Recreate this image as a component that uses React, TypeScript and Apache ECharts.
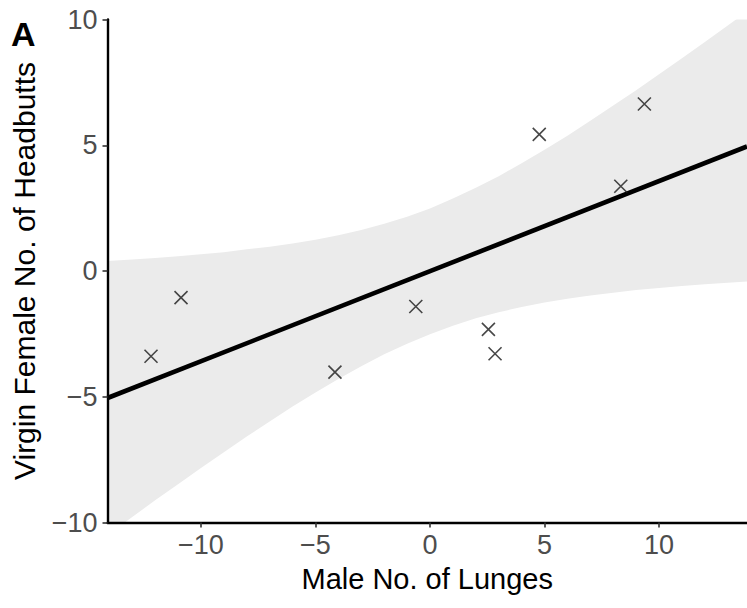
import React, { useEffect, useRef } from "react";
import * as echarts from "echarts";

// Scatter points
const pointX = [-12.18, -10.87, -4.15, -0.62, 2.55, 2.84, 4.77, 8.33, 9.36];
const pointY = [-3.39, -1.06, -4.02, -1.41, -2.32, -3.29, 5.43, 3.37, 6.64];

// Fitted line end points
const fitX = [-14.08, 13.84];
const fitY = [-5.05, 4.95];

// Confidence band edges
const bandX = [-14.08, -13, -12, -11, -10, -9, -8, -7, -6, -5, -4, -3, -2, -1, 0, 1, 2, 3, 4, 5, 6, 7, 8, 9, 10, 11, 12, 13, 13.84];
const bandLow = [-10.5, -9.78, -9.12, -8.48, -7.83, -7.21, -6.58, -5.98, -5.39, -4.83, -4.29, -3.79, -3.31, -2.89, -2.51, -2.18, -1.88, -1.64, -1.43, -1.25, -1.1, -0.97, -0.86, -0.76, -0.68, -0.6, -0.53, -0.47, -0.42];
const bandHigh = [0.4, 0.46, 0.52, 0.59, 0.67, 0.75, 0.86, 0.96, 1.09, 1.24, 1.42, 1.63, 1.88, 2.16, 2.49, 2.88, 3.31, 3.77, 4.28, 4.82, 5.38, 5.97, 6.58, 7.19, 7.82, 8.46, 9.11, 9.76, 10.32];

// Tick labels
const xTicks = [-10, -5, 0, 5, 10];
const yTicks = [-10, -5, 0, 5, 10];

const FONT = "'Liberation Sans', Arial, Helvetica, sans-serif";
const fmt = (v: number) => (v < 0 ? "\u2212" + Math.abs(v) : String(v));

export default function App() {
  const ref = useRef<HTMLDivElement>(null);
  useEffect(() => {
    if (!ref.current) return;
    const chart = echarts.init(ref.current, undefined, { renderer: "svg" });
    const option: any = {
      animation: false,
      backgroundColor: "#ffffff",
      grid: { left: 107.5, right: 0, top: 19.5, bottom: 85.5, containLabel: false },
      graphic: [
        {
          type: "text",
          left: 11,
          top: 17,
          style: { text: "A", fontSize: 34, fontWeight: "bold", fontFamily: FONT, fill: "#000" },
        },
      ],
      xAxis: {
        type: "value",
        min: fitX[0],
        max: fitX[1],
        z: 5,
        name: "Male No. of Lunges",
        nameLocation: "middle",
        nameGap: 42,
        nameTextStyle: { fontSize: 29, fontFamily: FONT, color: "#000" },
        splitLine: { show: false },
        axisLine: { show: true, onZero: false, lineStyle: { color: "#000", width: 2.4 } },
        axisTick: { show: true, length: 5, customValues: xTicks, lineStyle: { color: "#333", width: 1.6 } },
        axisLabel: {
          customValues: xTicks,
          formatter: fmt,
          fontSize: 27,
          fontFamily: FONT,
          color: "#4d4d4d",
          margin: 9,
        },
      },
      yAxis: {
        type: "value",
        min: yTicks[0],
        max: yTicks[yTicks.length - 1],
        interval: 5,
        z: 5,
        name: "Virgin Female No. of Headbutts",
        nameLocation: "middle",
        nameGap: 68,
        nameTextStyle: { fontSize: 30, fontFamily: FONT, color: "#000" },
        splitLine: { show: false },
        axisLine: { show: true, onZero: false, lineStyle: { color: "#000", width: 2.4 } },
        axisTick: { show: true, length: 5, lineStyle: { color: "#333", width: 1.6 } },
        axisLabel: {
          formatter: fmt,
          fontSize: 27,
          fontFamily: FONT,
          color: "#4d4d4d",
          margin: 10,
        },
      },
      series: [
        {
          type: "custom",
          clip: true,
          silent: true,
          z: 1,
          data: [0],
          renderItem: (params: any, api: any) => {
            const upper = bandX.map((x, i) => api.coord([x, bandHigh[i]]));
            const lower = bandX.map((x, i) => api.coord([x, bandLow[i]])).reverse();
            return {
              type: "polygon",
              shape: { points: upper.concat(lower), smooth: 0 },
              style: { fill: "#ebebeb", stroke: "none" },
            };
          },
        },
        {
          type: "line",
          data: fitX.map((x, i) => [x, fitY[i]]),
          symbol: "none",
          lineStyle: { color: "#000", width: 4.6 },
          z: 3,
        },
        {
          type: "scatter",
          data: pointX.map((x, i) => [x, pointY[i]]),
          symbol: "path://M0 0L10 10M10 0L0 10",
          symbolSize: 13,
          itemStyle: { color: "none", borderColor: "#1a1a1a", borderWidth: 1.6 },
          z: 4,
        },
      ],
    };
    chart.setOption(option);
    return () => chart.dispose();
  }, []);
  return (
    <div
      ref={ref}
      style={{ position: "fixed", left: 0, top: 0, width: 747, height: 608 }}
    />
  );
}
